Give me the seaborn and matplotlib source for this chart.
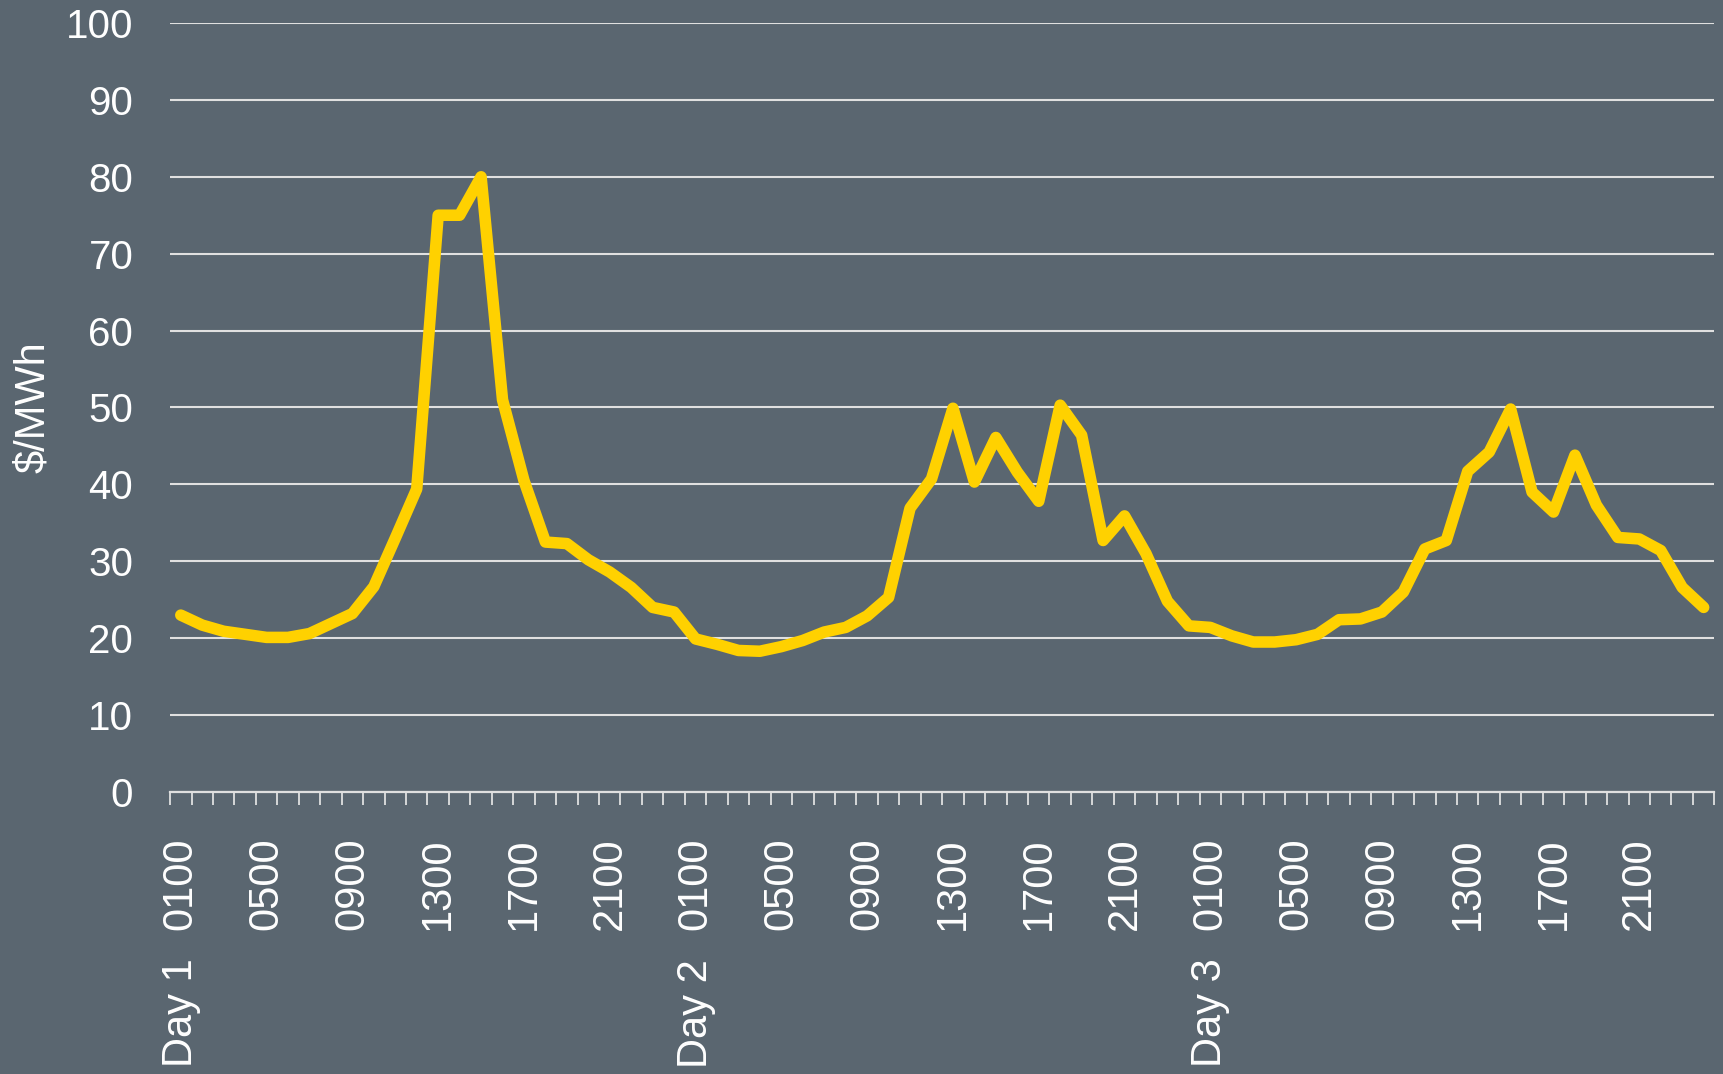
import numpy as np
import pandas as pd
import seaborn as sns
import matplotlib.pyplot as plt

days = ["Day 1", "Day 2", "Day 3"]
hour_labels = ["0100", "0500", "0900", "1300", "1700", "2100"]

day1 = [23.0, 21.7, 20.9, 20.5, 20.1, 20.1, 20.6, 21.9, 23.2, 26.7, 33.0, 39.4,
        75.0, 75.0, 80.0, 51.0, 40.5, 32.5, 32.3, 30.2, 28.6, 26.6, 24.0, 23.4]
day2 = [19.9, 19.2, 18.4, 18.3, 18.9, 19.7, 20.8, 21.4, 22.9, 25.3, 36.9, 40.7,
        49.9, 40.3, 46.1, 41.6, 37.8, 50.3, 46.4, 32.7, 35.9, 31.0, 24.8, 21.6]
day3 = [21.4, 20.3, 19.5, 19.5, 19.8, 20.5, 22.4, 22.5, 23.4, 26.0, 31.6, 32.7,
        41.7, 44.2, 49.8, 39.0, 36.4, 43.8, 37.3, 33.1, 32.9, 31.4, 26.6, 24.0]

price = day1 + day2 + day3
df = pd.DataFrame({"slot": np.arange(len(price)), "price": price})

bg = "#5A6670"
sns.set_style("white", {"axes.facecolor": bg, "figure.facecolor": bg})
plt.rcParams["font.family"] = ["Liberation Sans", "DejaVu Sans"]

fig = plt.figure(figsize=(17.23, 10.74), dpi=100)
ax = fig.add_axes([0.0987, 0.2626, 0.8963, 0.716])

sns.lineplot(data=df, x="slot", y="price", color="#FFD100", linewidth=8.3,
             sort=False, ax=ax, solid_capstyle="round", solid_joinstyle="round")

ax.set_ylim(0, 100)
ax.set_xlim(-0.5, len(price) - 0.5)
ax.set_yticks(range(0, 101, 10))
ax.yaxis.grid(True, color="#E0E0E0", linewidth=1.5)
ax.set_axisbelow(True)
ax.tick_params(axis="y", left=False, pad=23, labelsize=29, labelcolor="white")

# tick marks between categories, labels every 4 hours
ax.set_xticks(np.arange(-0.5, len(price), 1))
ax.set_xticklabels([])
ax.tick_params(axis="x", which="major", bottom=True, length=9, width=1.3,
               color="#E0E0E0")
lab_pos = np.arange(0, len(price), 4)
ax.set_xticks(lab_pos, minor=True)
ax.set_xticklabels(hour_labels * len(days), minor=True, rotation=90)
ax.tick_params(axis="x", which="minor", bottom=True, length=0, pad=33,
               labelsize=30, labelcolor="white")

for k, d in enumerate(days):
    ax.annotate(d, xy=(k * 24, 0), xycoords=("data", "axes fraction"),
                xytext=(0, -120), textcoords="offset points",
                rotation=90, ha="center", va="top", fontsize=30, color="white")

for s in ["top", "right", "left"]:
    ax.spines[s].set_visible(False)
ax.spines["bottom"].set_color("#E0E0E0")
ax.spines["bottom"].set_linewidth(1.6)

ax.set_xlabel("")
ax.set_ylabel("$/MWh", fontsize=30, color="white")
ax.yaxis.set_label_coords(-0.0755, 0.5)

fig.savefig("out.png", dpi=100, facecolor=bg)
